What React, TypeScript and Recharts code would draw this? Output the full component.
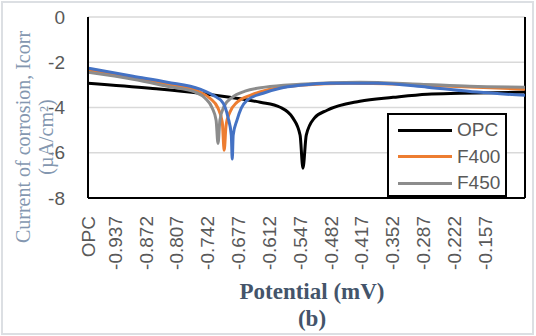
import React from "react";
import {
  LineChart,
  Line,
  XAxis,
  YAxis,
  CartesianGrid,
  ReferenceLine,
} from "recharts";

// x ticks (first one is the "OPC" header label of the category column)
const xTicks = [
  -0.994, -0.937, -0.872, -0.807, -0.742, -0.677, -0.612, -0.547, -0.482,
  -0.417, -0.352, -0.287, -0.222, -0.157,
];
const xTickLabels = [
  "OPC", "-0.937", "-0.872", "-0.807", "-0.742", "-0.677", "-0.612",
  "-0.547", "-0.482", "-0.417", "-0.352", "-0.287", "-0.222", "-0.157",
];
const yTicks = [0, -2, -4, -6, -8];

const opcPotential = [
  -0.994, -0.863, -0.758, -0.695, -0.631, -0.589, -0.562, -0.547, -0.541,
  -0.534, -0.517, -0.49, -0.421, -0.351, -0.279, -0.21, -0.073,
];
const opcCurrent = [
  -2.93, -3.15, -3.37, -3.55, -3.77, -3.99, -4.47, -5.22, -6.68, -5.22,
  -4.47, -4.12, -3.72, -3.55, -3.41, -3.37, -3.32,
];

const f400Potential = [
  -0.994, -0.899, -0.827, -0.758, -0.737, -0.72, -0.711, -0.707, -0.703,
  -0.695, -0.68, -0.652, -0.61, -0.547, -0.442, -0.336, -0.231, -0.073,
];
const f400Current = [
  -2.35, -2.71, -2.97, -3.32, -3.59, -4.03, -4.65, -5.89, -4.78, -4.21,
  -3.77, -3.46, -3.19, -3.02, -2.93, -2.97, -3.06, -3.19,
];

const f450Potential = [
  -0.994, -0.899, -0.827, -0.768, -0.747, -0.732, -0.724, -0.72, -0.716,
  -0.707, -0.69, -0.663, -0.621, -0.547, -0.421, -0.294, -0.189, -0.073,
];
const f450Current = [
  -2.44, -2.75, -3.06, -3.32, -3.59, -4.03, -4.56, -5.59, -4.56, -3.94,
  -3.55, -3.28, -3.1, -2.97, -2.88, -2.97, -3.06, -3.1,
];

// fourth curve (blue), not listed in the legend
const f500Potential = [
  -0.994, -0.899, -0.827, -0.758, -0.73, -0.709, -0.699, -0.692, -0.69,
  -0.688, -0.68, -0.671, -0.659, -0.625, -0.589, -0.547, -0.484, -0.385,
  -0.279, -0.174, -0.073,
];
const f500Current = [
  -2.26, -2.62, -2.88, -3.19, -3.46, -3.81, -4.43, -5.22, -6.28, -5.22,
  -4.56, -4.03, -3.68, -3.37, -3.15, -3.02, -2.93, -2.93, -3.1, -3.32,
  -3.46,
];

const legendNames = ["OPC", "F400", "F450"];
const legendColors = ["#000000", "#ED7D31", "#8C8C8C"];

const toRows = (v: number[], c: number[]) =>
  v.map((p, i) => ({ v: p, i: c[i] }));

const sans = "'Liberation Sans', Arial, sans-serif";
const serif = "'Liberation Serif', 'Times New Roman', serif";

const XTick = (props: any) => {
  const { x, payload } = props;
  const idx = xTicks.indexOf(payload.value);
  return (
    <g transform={`translate(${x},216) rotate(-90)`}>
      <text
        textAnchor="end"
        dy="0.35em"
        fontSize={19}
        fill="#595959"
        fontFamily={sans}
      >
        {idx >= 0 ? xTickLabels[idx] : ""}
      </text>
    </g>
  );
};

export default function App() {
  return (
    <div
      style={{
        position: "absolute",
        left: 0,
        top: 0,
        width: 536,
        height: 336,
        background: "#fff",
      }}
    >
      <div
        style={{
          position: "absolute",
          left: 1,
          top: 1,
          width: 533,
          height: 334,
          border: "2px solid #dcdfe3",
          boxSizing: "border-box",
        }}
      />
      <LineChart
        width={536}
        height={336}
        margin={{ top: 17, right: 11, left: 28, bottom: 48 }}
      >
        <CartesianGrid
          vertical={false}
          stroke="#d9d9d9"
          strokeWidth={1.5}
        />
        <XAxis
          type="number"
          dataKey="v"
          domain={[-0.994, -0.073]}
          ticks={xTicks}
          interval={0}
          tick={<XTick />}
          tickLine={false}
          axisLine={{ stroke: "#000", strokeWidth: 2 }}
          height={90}
          allowDataOverflow
        />
        <YAxis
          type="number"
          domain={[-8, 0]}
          ticks={yTicks}
          interval={0}
          width={60}
          tickLine={false}
          tickMargin={17}
          tick={{ fontSize: 19, fill: "#595959", fontFamily: sans }}
          axisLine={{ stroke: "#000", strokeWidth: 2 }}
        />
        <ReferenceLine x={-0.073} stroke="#000" strokeWidth={2} />
        <Line
          data={toRows(opcPotential, opcCurrent)}
          dataKey="i"
          name="OPC"
          type="monotone"
          stroke="#000000"
          strokeWidth={3}
          dot={false}
          isAnimationActive={false}
        />
        <Line
          data={toRows(f400Potential, f400Current)}
          dataKey="i"
          name="F400"
          type="monotone"
          stroke="#ED7D31"
          strokeWidth={3}
          dot={false}
          isAnimationActive={false}
        />
        <Line
          data={toRows(f450Potential, f450Current)}
          dataKey="i"
          name="F450"
          type="monotone"
          stroke="#8C8C8C"
          strokeWidth={3}
          dot={false}
          isAnimationActive={false}
        />
        <Line
          data={toRows(f500Potential, f500Current)}
          dataKey="i"
          name="F500"
          type="monotone"
          stroke="#4472C4"
          strokeWidth={3}
          dot={false}
          isAnimationActive={false}
        />
      </LineChart>
      <div
        style={{
          position: "absolute",
          left: 387,
          top: 113,
          width: 120,
          height: 84,
          border: "2px solid #000",
          background: "#fff",
          boxSizing: "border-box",
          paddingTop: 2,
        }}
      >
        {legendNames.map((name, k) => (
          <div
            key={name}
            style={{ display: "flex", alignItems: "center", height: 26.5 }}
          >
            <div
              style={{
                width: 54,
                height: 3,
                background: legendColors[k],
                marginLeft: 9,
                marginRight: 5,
              }}
            />
            <span style={{ fontFamily: sans, fontSize: 19, color: "#595959" }}>
              {name}
            </span>
          </div>
        ))}
      </div>
      <div
        style={{
          position: "absolute",
          left: -95,
          top: 114,
          width: 260,
          textAlign: "center",
          transform: "rotate(-90deg)",
          fontFamily: serif,
          fontSize: 20,
          lineHeight: "23px",
          color: "#8497B0",
          whiteSpace: "nowrap",
        }}
      >
        <div>Current of corrosion, Icorr</div>
        <div>(µA/cm²)</div>
      </div>
      <div
        style={{
          position: "absolute",
          left: 162,
          top: 278,
          width: 300,
          textAlign: "center",
          fontFamily: serif,
          fontWeight: "bold",
          fontSize: 23,
          lineHeight: "27px",
          color: "#44546A",
        }}
      >
        <div>Potential (mV)</div>
        <div>(b)</div>
      </div>
    </div>
  );
}
